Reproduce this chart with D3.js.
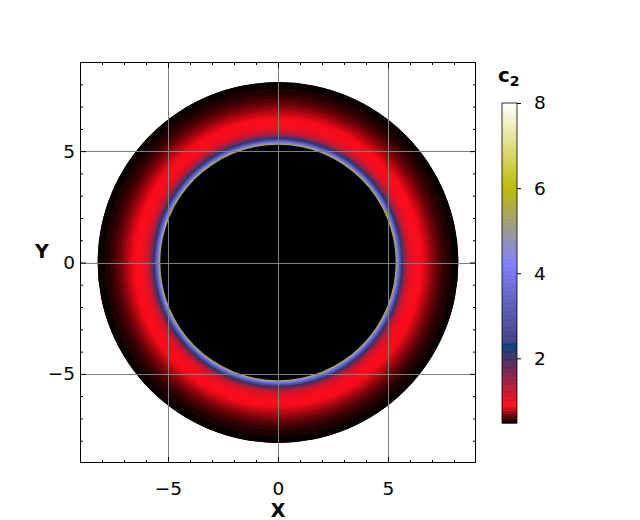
<!DOCTYPE html>
<html>
<head>
<meta charset="utf-8">
<script src="https://cdn.jsdelivr.net/npm/d3@7"></script>
<style>
  body { margin: 0; background: #fff; }
  text { font-family: "DejaVu Sans", sans-serif; fill: #000; }
</style>
</head>
<body>
<svg width="640" height="520"></svg>
<script>
// radial profile of c2 across the ring (radius -> value)
var radius = [5.35, 5.38, 5.42, 5.47, 5.52, 5.58, 5.64, 5.72, 5.82, 5.95, 6.10, 6.35, 6.60, 6.85, 7.10, 7.40, 7.70, 8.00, 8.20];
var c2     = [6.3,  5.6,  4.5,  3.9,  3.3,  2.7,  2.2,  1.75, 1.4,  1.15, 1.0,  0.92, 0.86, 0.77, 0.68, 0.60, 0.54, 0.505, 0.49];

var majorTicks = [-5, 0, 5];
var minorTicks = [-8, -7, -6, -4, -3, -2, -1, 1, 2, 3, 4, 6, 7, 8];
var cbarTicks = [2, 4, 6, 8];
var cmin = 0.48, cmax = 8;

var svg = d3.select("svg");

var x = d3.scaleLinear().domain([-9, 9]).range([80, 476]);
var y = d3.scaleLinear().domain([-9, 9]).range([463, 62]);
var px = (x(1) - x(0)); // pixels per unit (same for the rings)

// gist_stern colormap
function gistStern(t) {
    var r, g, b;
    if (t < 0.0547) r = t / 0.0547;
    else if (t < 0.25) r = 1 + (t - 0.0547) * (0.027 - 1) / (0.25 - 0.0547);
    else r = t;
    g = t;
    if (t < 0.5) b = 2 * t;
    else if (t < 0.735) b = 1 - (t - 0.5) / 0.235;
    else b = (t - 0.735) / 0.265;
    return d3.rgb(r * 255, g * 255, b * 255);
}

var norm = d3.scaleLinear().domain([cmin, cmax]).range([0, 1]).clamp(true);
var nLevels = 200;
var level = d3.scaleQuantize().domain([cmin, cmax]).range(d3.range(nLevels));
function levelColor(v) {
    var i = level(v);
    var mid = cmin + (i + 0.5) * (cmax - cmin) / nLevels;
    return gistStern(norm(mid));
}

var profile = d3.scaleLinear().domain(radius).range(c2).clamp(true);

svg.append("clipPath").attr("id", "plotclip")
    .append("rect").attr("x", 80).attr("y", 62).attr("width", 396).attr("height", 401);

var field = svg.append("g").attr("clip-path", "url(#plotclip)");

// rings from outside in
var rings = d3.range(radius[radius.length - 1], radius[0], -0.01);
field.selectAll("circle.ring")
    .data(rings)
    .enter()
    .append("circle")
    .attr("class", "ring")
    .attr("cx", x(0))
    .attr("cy", y(0))
    .attr("r", function(d) { return d * px; })
    .attr("fill", function(d) { return levelColor(profile(d)); });

field.append("circle")
    .attr("cx", x(0))
    .attr("cy", y(0))
    .attr("r", radius[0] * px)
    .attr("fill", "#000");

// grid
var grid = svg.append("g").attr("stroke", "#808080").attr("stroke-width", 1);
grid.selectAll("line.gx").data(majorTicks).enter().append("line")
    .attr("x1", function(d) { return Math.round(x(d)) + 0.5; })
    .attr("x2", function(d) { return Math.round(x(d)) + 0.5; })
    .attr("y1", 62).attr("y2", 463);
grid.selectAll("line.gy").data(majorTicks).enter().append("line")
    .attr("y1", function(d) { return Math.round(y(d)) + 0.5; })
    .attr("y2", function(d) { return Math.round(y(d)) + 0.5; })
    .attr("x1", 80).attr("x2", 476);

// axes with inward ticks
function styleAxis(g) {
    g.attr("font-size", 18.5).attr("font-family", "DejaVu Sans, sans-serif");
    g.select(".domain").remove();
    g.selectAll("line").attr("stroke", "#000");
    g.selectAll("text").attr("font-size", 18.5).attr("fill", "#000");
}

svg.append("g").attr("transform", "translate(0,463)")
    .call(d3.axisBottom(x).tickValues(majorTicks).tickSizeInner(-6).tickPadding(19).tickFormat(d3.format("d")))
    .call(styleAxis);
svg.append("g").attr("transform", "translate(0,463)")
    .call(d3.axisBottom(x).tickValues(minorTicks).tickSizeInner(-3).tickFormat(""))
    .call(styleAxis);
svg.append("g").attr("transform", "translate(0,62)")
    .call(d3.axisTop(x).tickValues(majorTicks).tickSizeInner(-6).tickFormat(""))
    .call(styleAxis);
svg.append("g").attr("transform", "translate(0,62)")
    .call(d3.axisTop(x).tickValues(minorTicks).tickSizeInner(-3).tickFormat(""))
    .call(styleAxis);
svg.append("g").attr("transform", "translate(80,0)")
    .call(d3.axisLeft(y).tickValues(majorTicks).tickSizeInner(-6).tickPadding(5).tickFormat(d3.format("d")))
    .call(styleAxis);
svg.append("g").attr("transform", "translate(80,0)")
    .call(d3.axisLeft(y).tickValues(minorTicks).tickSizeInner(-3).tickFormat(""))
    .call(styleAxis);
svg.append("g").attr("transform", "translate(476,0)")
    .call(d3.axisRight(y).tickValues(majorTicks).tickSizeInner(-6).tickFormat(""))
    .call(styleAxis);
svg.append("g").attr("transform", "translate(476,0)")
    .call(d3.axisRight(y).tickValues(minorTicks).tickSizeInner(-3).tickFormat(""))
    .call(styleAxis);

svg.append("rect")
    .attr("x", 80.5).attr("y", 62.5).attr("width", 395).attr("height", 400)
    .attr("fill", "none").attr("stroke", "#000").attr("stroke-width", 1);

svg.append("text").attr("x", x(0)).attr("y", 517)
    .attr("text-anchor", "middle").attr("font-size", 19).attr("font-weight", "bold").text("X");
svg.append("text").attr("x", 42).attr("y", 258)
    .attr("text-anchor", "middle").attr("font-size", 19).attr("font-weight", "bold").text("Y");

// colorbar
var cy = d3.scaleLinear().domain([cmin, cmax]).range([423, 103]);
var cbar = svg.append("g");
var step = (cmax - cmin) / nLevels;
var levelEdges = d3.range(nLevels).map(function(i) { return cmin + i * step; });
cbar.selectAll("rect.lev").data(levelEdges).enter().append("rect")
    .attr("class", "lev")
    .attr("x", 502).attr("width", 15)
    .attr("y", function(d) { return cy(d + step); })
    .attr("height", function(d) { return cy(d) - cy(d + step) + 0.5; })
    .attr("fill", function(d) { return gistStern(norm(d + step / 2)); });
cbar.append("rect")
    .attr("x", 502).attr("y", 103).attr("width", 15).attr("height", 320)
    .attr("fill", "none").attr("stroke", "#000").attr("stroke-width", 0.8);

svg.append("g").attr("transform", "translate(517,0)")
    .call(d3.axisRight(cy).tickValues(cbarTicks).tickSizeInner(4).tickPadding(13).tickFormat(d3.format("d")))
    .call(styleAxis);

var clab = svg.append("text").attr("x", 498).attr("y", 82)
    .attr("font-size", 20).attr("font-weight", "bold");
clab.append("tspan").text("c");
clab.append("tspan").attr("font-size", 14).attr("dy", 4).text("2");
</script>
</body>
</html>
